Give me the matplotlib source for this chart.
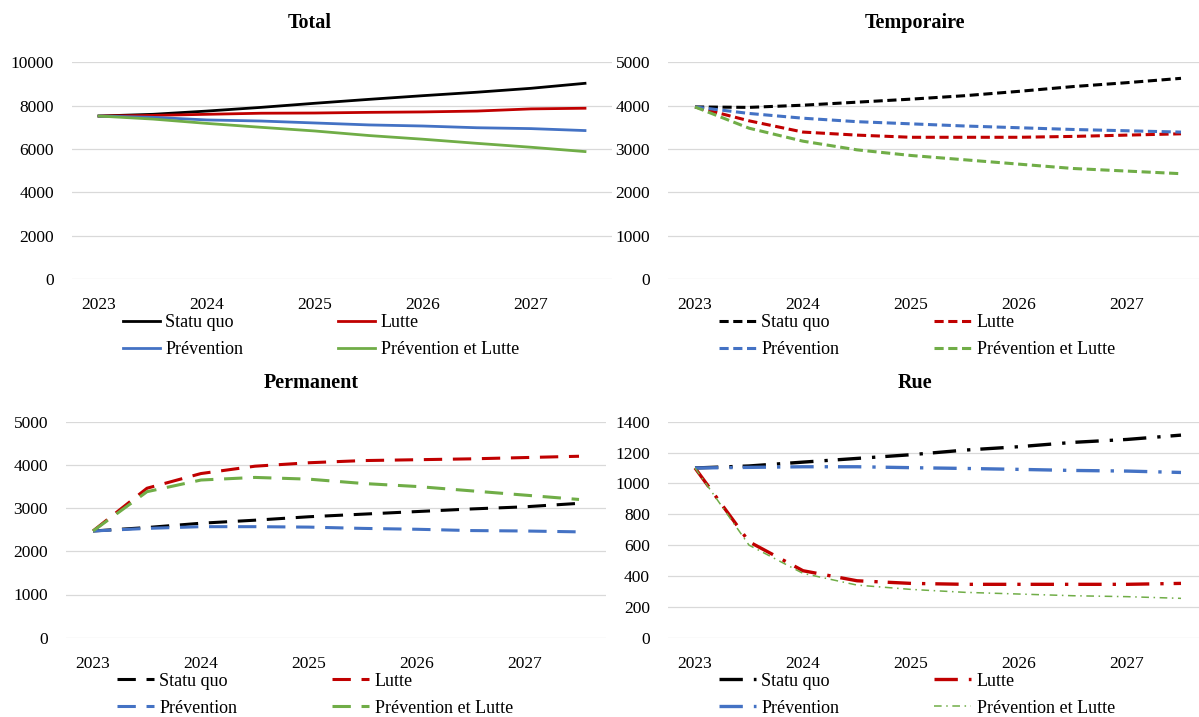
import matplotlib
matplotlib.use('Agg')
import matplotlib.pyplot as plt

plt.rcParams['font.family'] = ['Liberation Serif', 'DejaVu Serif']

# demi-années 2023 -> 2027.5
periodes = [2023, 2023.5, 2024, 2024.5, 2025, 2025.5, 2026, 2026.5, 2027, 2027.5]
annees = [2023, 2024, 2025, 2026, 2027]
scenarios = ['Statu quo', 'Lutte', 'Prévention', 'Prévention et Lutte']
couleurs = ['#000000', '#C00000', '#4472C4', '#70AD47']

# Total
total_statu_quo = [7520, 7600, 7750, 7920, 8110, 8290, 8460, 8620, 8800, 9030]
total_lutte = [7520, 7550, 7600, 7650, 7660, 7690, 7710, 7750, 7850, 7880]
total_prevention = [7520, 7460, 7340, 7290, 7200, 7110, 7060, 6980, 6940, 6850]
total_prev_lutte = [7520, 7380, 7180, 7000, 6830, 6620, 6450, 6260, 6080, 5880]

# Temporaire
temp_statu_quo = [3970, 3960, 4010, 4080, 4150, 4230, 4330, 4440, 4530, 4630]
temp_lutte = [3970, 3650, 3390, 3320, 3270, 3270, 3270, 3290, 3320, 3350]
temp_prevention = [3970, 3820, 3710, 3630, 3580, 3530, 3490, 3450, 3420, 3390]
temp_prev_lutte = [3970, 3480, 3180, 2980, 2850, 2750, 2650, 2550, 2490, 2430]

# Permanent
perm_statu_quo = [2470, 2550, 2650, 2720, 2800, 2860, 2920, 2980, 3030, 3110]
perm_lutte = [2470, 3460, 3800, 3970, 4050, 4100, 4120, 4140, 4170, 4200]
perm_prevention = [2470, 2530, 2570, 2570, 2560, 2530, 2510, 2480, 2470, 2450]
perm_prev_lutte = [2470, 3380, 3650, 3710, 3670, 3570, 3500, 3400, 3300, 3200]

# Rue
rue_statu_quo = [1100, 1113, 1138, 1162, 1186, 1216, 1238, 1266, 1285, 1313]
rue_lutte = [1100, 622, 434, 369, 352, 346, 346, 346, 346, 352]
rue_prevention = [1100, 1104, 1108, 1108, 1102, 1097, 1091, 1084, 1080, 1071]
rue_prev_lutte = [1100, 600, 417, 341, 313, 294, 283, 272, 266, 255]

W, H = 1199, 717
fig = plt.figure(figsize=(W / 100, H / 100), dpi=100)


def px_axes(left, top, bottom, width=540):
    return fig.add_axes([left / W, 1 - bottom / H, width / W, (bottom - top) / H])


panneaux = [
    # titre, series, ymax, pas, axes (left, top, bottom), titre x, style
    ('Total', [total_statu_quo, total_lutte, total_prevention, total_prev_lutte],
     10000, 2000, (72, 62.3, 279), 310, 'plein'),
    ('Temporaire', [temp_statu_quo, temp_lutte, temp_prevention, temp_prev_lutte],
     5000, 1000, (668, 62.3, 279), 915, 'tiret'),
    ('Permanent', [perm_statu_quo, perm_lutte, perm_prevention, perm_prev_lutte],
     5000, 1000, (66, 421.7, 637.7), 311, 'long'),
    ('Rue', [rue_statu_quo, rue_lutte, rue_prevention, rue_prev_lutte],
     1400, 200, (668, 421.7, 637.7), 915, 'mixte'),
]

for titre, series, ymax, pas, (l, t, b), tx, style in panneaux:
    ax = px_axes(l, t, b)
    lignes = []
    for i, (vals, nom, c) in enumerate(zip(series, scenarios, couleurs)):
        if style == 'plein':
            ln, = ax.plot(periodes, vals, color=c, lw=2.0, label=nom)
        elif style == 'tiret':
            ln, = ax.plot(periodes, vals, color=c, lw=2.2, dashes=(3, 1.5), label=nom)
        elif style == 'long':
            ln, = ax.plot(periodes, vals, color=c, lw=2.2, dashes=(6, 3.5), label=nom)
        else:
            if i == 3:
                ln, = ax.plot(periodes, vals, color=c, lw=1.1, dashes=(5, 3, 1, 3), label=nom)
            else:
                ln, = ax.plot(periodes, vals, color=c, lw=2.4, dashes=(7, 3.3, 1, 3), label=nom)
        lignes.append(ln)

    ax.set_xlim(2022.75, 2027.75)
    ax.set_ylim(0, ymax)
    ax.set_xticks(annees)
    ax.set_xticklabels([str(a) for a in annees])
    ax.set_yticks(range(0, ymax + 1, pas))
    ax.grid(axis='y', color='#D9D9D9', lw=0.9)
    ax.set_axisbelow(True)
    for s in ax.spines.values():
        s.set_visible(False)
    ax.tick_params(axis='both', length=0, labelsize=12.5, colors='#000000')
    ax.tick_params(axis='y', pad=13)
    ax.tick_params(axis='x', pad=13)

    fig.text(tx / W, 1 - (t - 39) / H, titre, ha='center', va='center',
             fontsize=14.5, fontweight='bold')

    # ordre ligne par ligne comme la légende d'origine
    ordre = [0, 2, 1, 3]
    x0 = l + 27 + 24
    ax.legend([lignes[k] for k in ordre], [scenarios[k] for k in ordre],
              loc='upper left', bbox_to_anchor=(x0 / W, 1 - (b + 35) / H),
              bbox_transform=fig.transFigure, ncol=2, frameon=False,
              fontsize=13, handlelength=2.05, handletextpad=0.3,
              columnspacing=5.25, labelspacing=0.55, borderpad=0, borderaxespad=0)

fig.savefig('out.png', dpi=100)
